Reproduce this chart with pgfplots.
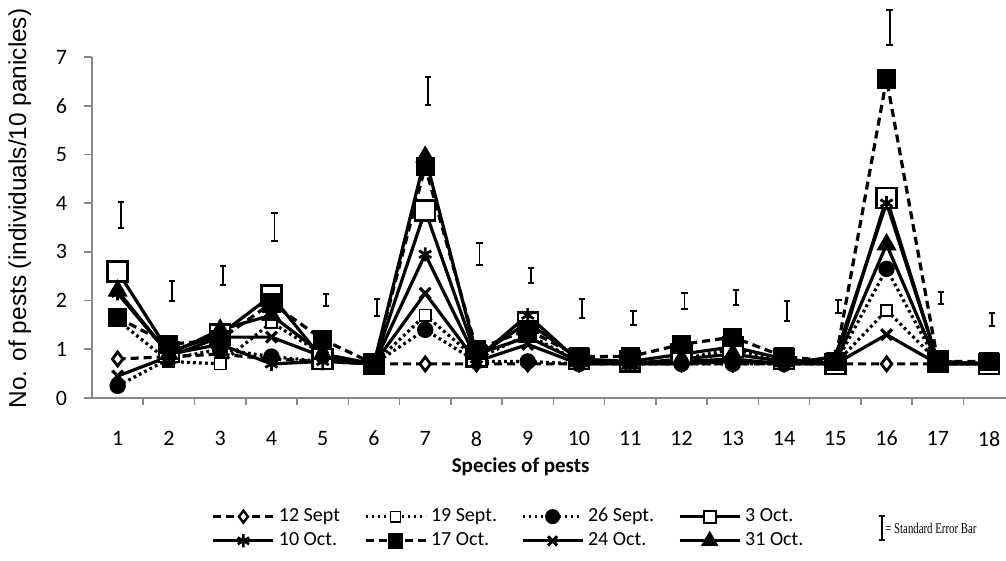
\documentclass[border=0pt]{standalone}
\usepackage{pgfplots}
\pgfplotsset{compat=1.18}
\usepackage{graphicx}
\usepackage{fontspec}
\setmainfont{Carlito}
\newfontfamily\arialf{Liberation Sans}
\newfontfamily\timesf{Liberation Serif}
\usetikzlibrary{plotmarks}

\tikzset{
  dsh/.style={dash pattern=on 4pt off 2.5pt},
  dtt/.style={dash pattern=on 1.4pt off 1.6pt},
}

\begin{document}
\begin{tikzpicture}
\begin{axis}[
  at={(0,0)}, anchor=south west,
  scale only axis, width=457pt, height=170.5pt,
  xmin=0.5, xmax=18.33, ymin=0, ymax=7,
  clip=false,
  axis lines*=left,
  axis line style={draw=black!47, line width=0.8pt},
  xtick={1,...,18}, minor xtick={1.5,2.5,...,17.5},
  ytick={0,...,7},
  tick align=outside,
  major tick length=4pt, minor tick length=3.5pt,
  tick style={draw=black!47, line width=0.8pt},
  major x tick style={draw=none},
  ticklabel style={font=\fontsize{11}{13}\selectfont},
  /pgf/number format/assume math mode=true,
  xticklabel style={yshift=-9pt},
  yticklabel style={xshift=-5pt},
  xlabel={Species of pests},
  ylabel={No. of pests (individuals/10 panicles)},
  every axis x label/.style={at={(0.469,-0.202)}, anchor=center, font=\bfseries\fontsize{10.5}{12}\selectfont},
  every axis y label/.style={at={(-0.079,0.556)}, rotate=90, anchor=center, font=\arialf\fontsize{12.2}{14}\selectfont},
  legend columns=4, legend cell align=left,
  legend style={at={(0.457,-0.383)}, anchor=center, draw=none, fill=none,
    font=\fontsize{10}{11.5}\selectfont,
    /tikz/every even column/.append style={column sep=10pt}},
  legend image code/.code={\draw[mark repeat=2,mark phase=2,#1] plot coordinates {(0pt,0pt) (15pt,0pt) (30pt,0pt)};},
  every axis plot/.append style={line width=1.6pt, black},
]

% 12 Sept
\addplot[forget plot, dsh, mark=diamond*, mark size=3.5pt, mark options={solid, fill=white, line width=1.4pt}] coordinates {
(1,0.8) (2,0.85) (3,0.9) (4,0.8) (5,0.75) (6,0.7) (7,0.7) (8,0.7) (9,0.7) (10,0.7) (11,0.7) (12,0.7) (13,0.7) (14,0.7) (15,0.7) (16,0.7) (17,0.7) (18,0.7)};

% 19 Sept
\addplot[forget plot, dtt, mark=square*, mark size=2.8pt, mark options={solid, fill=white, line width=0.8pt}] coordinates {
(1,1.6) (2,0.75) (3,0.7) (4,1.55) (5,0.9) (6,0.7) (7,1.7) (8,0.8) (9,1.3) (10,0.75) (11,0.7) (12,0.8) (13,1.0) (14,0.75) (15,0.7) (16,1.8) (17,0.75) (18,0.7)};

% 26 Sept
\addplot[forget plot, dtt, mark=*, mark size=3.3pt, mark options={solid}] coordinates {
(1,0.25) (2,0.8) (3,1.0) (4,0.85) (5,0.75) (6,0.7) (7,1.4) (8,0.75) (9,0.75) (10,0.7) (11,0.7) (12,0.7) (13,0.7) (14,0.7) (15,0.7) (16,2.65) (17,0.7) (18,0.7)};

% 3 Oct
\addplot[forget plot, mark=square*, mark size=5pt, mark options={fill=white, line width=1.2pt}] coordinates {
(1,2.6) (2,0.95) (3,1.3) (4,2.1) (5,0.8) (6,0.7) (7,3.85) (8,0.85) (9,1.55) (10,0.8) (11,0.75) (12,0.9) (13,1.05) (14,0.8) (15,0.7) (16,4.1) (17,0.75) (18,0.7)};

% 10 Oct
\addplot[forget plot, mark=asterisk, mark size=3.5pt, mark options={line width=1.4pt}] coordinates {
(1,2.15) (2,0.9) (3,1.1) (4,0.7) (5,0.75) (6,0.7) (7,2.95) (8,0.8) (9,1.7) (10,0.75) (11,0.7) (12,0.75) (13,0.8) (14,0.7) (15,0.85) (16,4.0) (17,0.75) (18,0.7)};

% 17 Oct
\addplot[forget plot, dsh, mark=square*, mark size=4pt, mark options={solid}] coordinates {
(1,1.65) (2,1.1) (3,1.2) (4,1.95) (5,1.2) (6,0.7) (7,4.75) (8,1.0) (9,1.4) (10,0.85) (11,0.85) (12,1.1) (13,1.25) (14,0.85) (15,0.75) (16,6.55) (17,0.75) (18,0.75)};

% 24 Oct
\addplot[forget plot, mark=x, mark size=3.8pt, mark options={line width=1.6pt}] coordinates {
(1,0.45) (2,0.85) (3,1.25) (4,1.25) (5,0.85) (6,0.7) (7,2.15) (8,0.75) (9,1.1) (10,0.7) (11,0.7) (12,0.7) (13,0.75) (14,0.7) (15,0.7) (16,1.3) (17,0.7) (18,0.7)};

% 31 Oct
\addplot[forget plot, mark=triangle*, mark size=4.2pt] coordinates {
(1,2.2) (2,0.9) (3,1.4) (4,1.7) (5,0.9) (6,0.7) (7,4.95) (8,0.9) (9,1.25) (10,0.75) (11,0.7) (12,0.8) (13,0.9) (14,0.75) (15,0.7) (16,3.15) (17,0.7) (18,0.7)};

% legend samples (smaller marks, as in the original legend)
\addlegendimage{line width=1.5pt, dsh, mark=diamond*, mark size=3pt, mark options={solid, fill=white, line width=1.2pt}}
\addlegendentry{12 Sept}
\addlegendimage{line width=1.5pt, dtt, mark=square*, mark size=2.6pt, mark options={solid, fill=white, line width=0.7pt}}
\addlegendentry{19 Sept.}
\addlegendimage{line width=1.5pt, dtt, mark=*, mark size=3pt, mark options={solid}}
\addlegendentry{26 Sept.}
\addlegendimage{line width=1.5pt, mark=square*, mark size=3pt, mark options={fill=white, line width=1pt}}
\addlegendentry{3 Oct.}
\addlegendimage{line width=1.5pt, mark=asterisk, mark size=3.3pt, mark options={line width=1.3pt}}
\addlegendentry{10 Oct.}
\addlegendimage{line width=1.5pt, dsh, mark=square*, mark size=3.2pt, mark options={solid}}
\addlegendentry{17 Oct.}
\addlegendimage{line width=1.5pt, mark=x, mark size=3.2pt, mark options={line width=1.5pt}}
\addlegendentry{24 Oct.}
\addlegendimage{line width=1.5pt, mark=triangle*, mark size=3.6pt}
\addlegendentry{31 Oct.}

% standard error bars drawn above each species
\addplot[forget plot, draw=none, mark=none,
  error bars/.cd, y dir=both, y explicit,
  error bar style={draw=black, solid, line width=0.9pt},
  error mark options={rotate=90, draw=black, solid, line width=1pt, mark size=1.6pt}] coordinates {
(1.06,3.76) +- (0,0.27)
(2.06,2.195) +- (0,0.205)
(3.06,2.51) +- (0,0.19)
(4.06,3.515) +- (0,0.285)
(5.06,2.01) +- (0,0.12)
(6.06,1.855) +- (0,0.175)
(7.06,6.305) +- (0,0.285)
(8.06,2.955) +- (0,0.235)
(9.06,2.51) +- (0,0.15)
(10.06,1.835) +- (0,0.195)
(11.06,1.645) +- (0,0.145)
(12.06,1.99) +- (0,0.17)
(13.06,2.065) +- (0,0.155)
(14.06,1.79) +- (0,0.2)
(15.06,1.88) +- (0,0.13)
(16.06,7.61) +- (0,0.36)
(17.06,2.055) +- (0,0.125)
(18.06,1.61) +- (0,0.13)
(15.91,-2.67) +- (0,0.25)
};

\node[anchor=west, inner sep=0pt] at (axis cs:15.97,-2.67)
  {\scalebox{0.72}[1]{\timesf\fontsize{7.5}{8}\selectfont = Standard Error Bar}};
\end{axis}
\pgfresetboundingbox
\path (-46pt,-81.5pt) rectangle (457pt,199pt);
\end{tikzpicture}
\end{document}
